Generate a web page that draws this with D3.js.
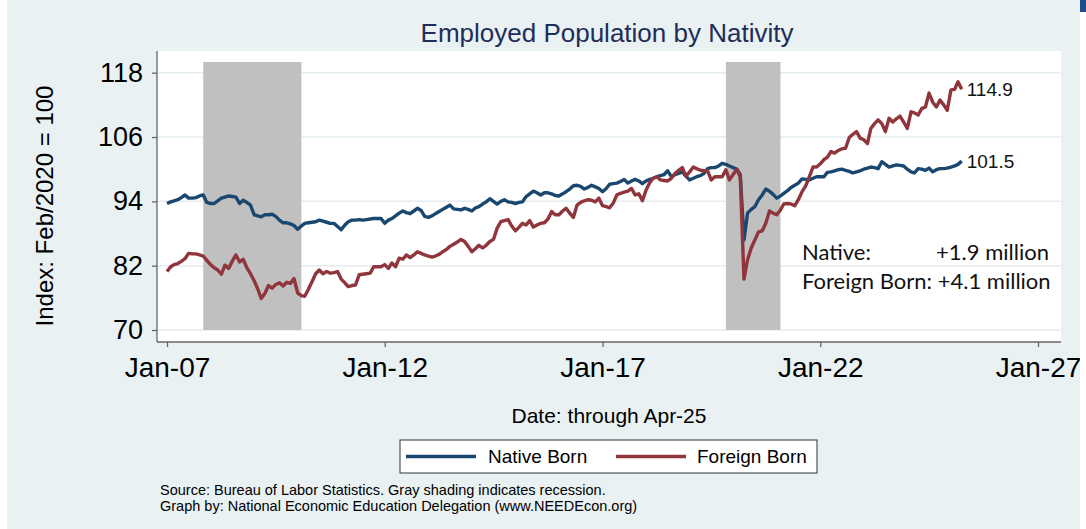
<!DOCTYPE html>
<html>
<head>
<meta charset="utf-8">
<script src="https://cdn.jsdelivr.net/npm/d3@7"></script>
<style>
  body { margin: 0; background: #fff; }
  svg { display: block; font-family: "Liberation Sans", Arial, sans-serif; }
</style>
</head>
<body>
<svg id="chart" width="1086" height="529"></svg>
<script>
// monthly index values, Feb 2020 = 100, Jan 2007 .. Apr 2025
const startYear = 2007;
const nativeBorn = [
  93.6, 93.9, 94.1, 94.3, 94.7, 95.2, 94.6, 94.6, 94.7, 95.0, 95.2, 93.8, // 2007
  93.6, 93.6, 94.1, 94.6, 94.8, 95.0, 94.9, 94.8, 93.6, 94.2, 93.8, 93.3, // 2008
  91.5, 91.3, 91.1, 91.5, 91.5, 91.6, 91.2, 90.5, 90.0, 90.0, 89.8, 89.5, // 2009
  88.8, 89.4, 89.9, 90.0, 90.1, 90.2, 90.5, 90.3, 90.1, 89.9, 89.9, 89.3, // 2010
  88.7, 89.6, 90.2, 90.5, 90.5, 90.6, 90.5, 90.6, 90.7, 90.8, 90.8, 90.8, // 2011
  89.9, 90.5, 90.8, 91.3, 91.8, 92.2, 91.9, 91.7, 92.2, 92.7, 92.3, 91.2, // 2012
  91.0, 91.3, 91.7, 92.1, 92.5, 92.9, 93.3, 92.6, 92.5, 92.4, 92.7, 92.5, // 2013
  92.2, 92.8, 93.0, 93.5, 93.9, 94.5, 94.0, 93.5, 94.0, 94.3, 93.9, 93.8, // 2014
  93.6, 93.8, 93.9, 94.9, 95.4, 95.9, 95.6, 95.2, 95.6, 95.6, 95.4, 95.1, // 2015
  95.0, 95.4, 95.8, 96.3, 96.9, 97.0, 96.8, 96.3, 96.6, 97.0, 96.7, 96.4, // 2016
  95.8, 96.4, 97.2, 97.3, 97.4, 97.7, 98.1, 97.4, 97.8, 98.1, 97.8, 97.3, // 2017
  97.8, 98.1, 98.3, 98.6, 98.8, 99.0, 99.7, 98.6, 99.0, 99.2, 99.5, 98.7, // 2018
  98.0, 98.3, 98.6, 98.8, 99.2, 100.1, 100.3, 100.3, 100.6, 101.1, 100.9, 100.6, // 2019
  100.3, 100.0, 99.0, 86.8, 91.8, 92.5, 93.0, 94.3, 95.2, 96.3, 95.9, 95.3, // 2020
  94.6, 95.0, 95.5, 96.0, 96.6, 97.0, 97.4, 98.2, 98.1, 98.0, 98.3, 98.6, // 2021
  98.6, 98.6, 99.4, 99.5, 99.7, 99.9, 100.0, 99.8, 99.6, 99.3, 99.5, 99.7, // 2022
  100.0, 100.2, 100.4, 100.3, 100.1, 101.4, 100.9, 100.4, 100.6, 100.8, 100.7, 100.6, // 2023
  100.0, 99.5, 99.3, 100.1, 100.0, 99.8, 100.2, 99.5, 99.9, 100.1, 100.1, 100.2, // 2024
  100.4, 100.6, 100.9, 101.5 // 2025
];
const foreignBorn = [
  80.9, 81.8, 82.2, 82.4, 82.8, 83.3, 84.3, 84.2, 84.2, 84.0, 83.8, 83.0, // 2007
  82.2, 81.6, 81.2, 80.4, 82.1, 81.5, 82.8, 84.0, 82.7, 83.2, 81.6, 80.5, // 2008
  79.2, 77.6, 75.9, 76.8, 78.3, 77.8, 78.5, 78.8, 78.2, 78.9, 78.7, 79.6, // 2009
  76.9, 76.4, 76.3, 77.6, 79.0, 80.5, 81.2, 80.5, 80.9, 80.6, 80.7, 80.9, // 2010
  79.5, 78.8, 78.1, 78.3, 78.4, 80.3, 80.4, 80.5, 80.6, 81.8, 81.8, 81.8, // 2011
  82.2, 81.5, 82.5, 81.8, 83.4, 83.2, 84.0, 83.5, 84.0, 84.6, 84.3, 84.0, // 2012
  83.8, 83.6, 83.8, 84.1, 84.6, 85.0, 85.6, 86.0, 86.4, 86.9, 86.5, 85.6, // 2013
  84.6, 85.2, 85.8, 85.3, 85.8, 86.5, 86.9, 89.0, 90.2, 90.4, 90.6, 89.4, // 2014
  88.5, 89.2, 89.9, 89.6, 90.4, 89.2, 89.6, 89.9, 90.0, 90.7, 92.1, 91.5, // 2015
  91.5, 92.2, 92.7, 91.8, 91.0, 93.3, 93.8, 94.1, 94.3, 94.2, 93.9, 94.6, // 2016
  93.2, 93.0, 92.8, 93.7, 95.2, 95.5, 95.7, 95.9, 96.4, 95.2, 95.4, 94.1, // 2017
  96.1, 97.5, 98.3, 98.6, 98.0, 97.9, 97.8, 98.3, 99.2, 99.8, 100.3, 98.7, // 2018
  99.5, 100.4, 100.1, 99.8, 99.7, 99.7, 98.0, 98.6, 98.6, 98.6, 99.9, 98.0, // 2019
  99.0, 100.0, 98.5, 79.5, 83.1, 85.3, 86.8, 88.3, 88.5, 89.9, 92.2, 91.8, // 2020
  91.5, 92.4, 93.5, 93.6, 93.5, 93.2, 94.3, 95.8, 96.9, 98.6, 100.4, 100.4, // 2021
  101.0, 101.8, 102.2, 103.3, 103.0, 103.5, 103.8, 103.9, 105.9, 106.5, 107.0, 105.8, // 2022
  105.5, 104.8, 107.6, 108.5, 109.2, 108.5, 107.0, 109.5, 108.8, 109.4, 109.9, 108.8, // 2023
  107.6, 110.7, 110.5, 110.1, 111.3, 111.6, 114.2, 112.5, 111.6, 112.9, 112.0, 111.0, // 2024
  114.8, 114.9, 116.3, 114.9 // 2025
];
// recession shading [start, end] as [year, monthIndex]
const recessions = [[[2007, 10], [2010, 1]], [[2019, 10], [2021, 1]]];
const yTicks = [70, 82, 94, 106, 118];
const xTickYears = [2007, 2012, 2017, 2022, 2027];
const seriesNames = ["Native Born", "Foreign Born"];
const endLabels = ["101.5", "114.9"];
const noteLines = ["Native:", "Foreign Born: +4.1 million"];
const noteNativeValue = "+1.9 million";

const colors = ["#1a476f", "#90353b"];

const svg = d3.select("#chart");
const plot = { left: 157, right: 1061, top: 51, bottom: 342 };

const month = i => new Date(Date.UTC(startYear, i, 1));
const x = d3.scaleUtc([new Date(Date.UTC(2007, 0, 1)), new Date(Date.UTC(2027, 0, 1))], [167, 1038]);
const y = d3.scaleLinear([70, 118], [330, 72.7]);

// background
svg.append("rect").attr("x", 7).attr("y", 0).attr("width", 1073).attr("height", 529).attr("fill", "#e9f1f3");
svg.append("rect")
  .attr("x", plot.left).attr("y", plot.top)
  .attr("width", plot.right - plot.left).attr("height", plot.bottom - plot.top)
  .attr("fill", "#fff");

// grid
svg.append("g").selectAll("line").data(yTicks).join("line")
  .attr("x1", plot.left).attr("x2", plot.right)
  .attr("y1", d => y(d)).attr("y2", d => y(d))
  .attr("stroke", "#e3ecee").attr("stroke-width", 1.5);

// recessions
const rStart = d => x(new Date(Date.UTC(d[0][0], d[0][1], 1)));
const rEnd = d => x(new Date(Date.UTC(d[1][0], d[1][1], 1)));
svg.append("g").selectAll("rect").data(recessions).join("rect")
  .attr("x", rStart)
  .attr("width", d => rEnd(d) - rStart(d))
  .attr("y", y(120)).attr("height", y(70) - y(120))
  .attr("fill", "#c0c0c0");

// lines
const line = d3.line().x((d, i) => x(month(i))).y(d => y(d));
svg.append("g").attr("fill", "none").attr("stroke-width", 3.4).attr("stroke-linejoin", "round")
  .selectAll("path").data([nativeBorn, foreignBorn]).join("path")
  .attr("stroke", (d, i) => colors[i])
  .attr("d", line);

// end labels
svg.append("g").selectAll("text").data([nativeBorn, foreignBorn]).join("text")
  .attr("x", d => x(month(d.length - 1)) + 5)
  .attr("y", d => y(d[d.length - 1]) + 7)
  .attr("font-size", 19).attr("fill", "#111")
  .text((d, i) => endLabels[i]);

// axes
const yAxis = svg.append("g").attr("transform", `translate(${plot.left},0)`)
  .call(d3.axisLeft(y).tickValues(yTicks).tickSize(5).tickPadding(9));
const xAxis = svg.append("g").attr("transform", `translate(0,${plot.bottom})`)
  .call(d3.axisBottom(x).tickValues(xTickYears.map(yr => new Date(Date.UTC(yr, 0, 1))))
    .tickFormat(d3.utcFormat("Jan-%y")).tickSize(5).tickPadding(10));
[yAxis, xAxis].forEach(g => {
  g.select(".domain").remove();
  g.selectAll(".tick line").attr("stroke", "#666").attr("stroke-width", 1.3);
  g.selectAll("text").attr("fill", "#000").attr("font-family", "Liberation Sans, Arial, sans-serif");
});
yAxis.selectAll("text").attr("font-size", 27);
xAxis.selectAll("text").attr("font-size", 28);
svg.append("line").attr("x1", plot.left).attr("x2", plot.left).attr("y1", plot.top).attr("y2", plot.bottom)
  .attr("stroke", "#666").attr("stroke-width", 1.3);
svg.append("line").attr("x1", plot.left).attr("x2", plot.right).attr("y1", plot.bottom).attr("y2", plot.bottom)
  .attr("stroke", "#666").attr("stroke-width", 1.3);

// titles
svg.append("text").attr("x", 607).attr("y", 41.5).attr("text-anchor", "middle")
  .attr("font-size", 26).attr("fill", "#1e2d59").text("Employed Population by Nativity");
svg.append("text").attr("transform", "translate(53,206) rotate(-90)").attr("text-anchor", "middle")
  .attr("font-size", 24).attr("fill", "#000").text("Index: Feb/2020 = 100");
svg.append("text").attr("x", 609).attr("y", 423).attr("text-anchor", "middle")
  .attr("font-size", 21).attr("fill", "#000").text("Date: through Apr-25");

// note
const note = svg.append("g").attr("font-family", "Lato, 'Open Sans', sans-serif").attr("font-size", 22).attr("fill", "#111");
note.selectAll("text.lbl").data(noteLines).join("text").attr("class", "lbl")
  .attr("x", 802).attr("y", (d, i) => 260 + i * 29.3).text(d => d);
note.append("text").attr("x", 1049).attr("y", 260).attr("text-anchor", "end").text(noteNativeValue);

// legend
const legend = svg.append("g");
legend.append("rect").attr("x", 400).attr("y", 440).attr("width", 417).attr("height", 33)
  .attr("fill", "#fff").attr("stroke", "#333").attr("stroke-width", 1);
const legendX = [[406, 476, 488], [616, 686, 697]];
seriesNames.forEach((name, i) => {
  legend.append("line").attr("x1", legendX[i][0]).attr("x2", legendX[i][1]).attr("y1", 456.5).attr("y2", 456.5)
    .attr("stroke", colors[i]).attr("stroke-width", 3.5);
  legend.append("text").attr("x", legendX[i][2]).attr("y", 463).attr("font-size", 19).attr("fill", "#000").text(name);
});

// source
svg.append("text").attr("x", 160).attr("y", 495).attr("font-size", 14.5).attr("fill", "#000")
  .text("Source: Bureau of Labor Statistics. Gray shading indicates recession.");
svg.append("text").attr("x", 160).attr("y", 510.5).attr("font-size", 14.5).attr("fill", "#000")
  .text("Graph by: National Economic Education Delegation (www.NEEDEcon.org)");

// right edge strip
svg.append("rect").attr("x", 1080).attr("y", 0).attr("width", 6).attr("height", 529).attr("fill", "#fff");
svg.append("rect").attr("x", 1080).attr("y", 0).attr("width", 6).attr("height", 12).attr("fill", "#1f4e8c");
</script>
</body>
</html>
